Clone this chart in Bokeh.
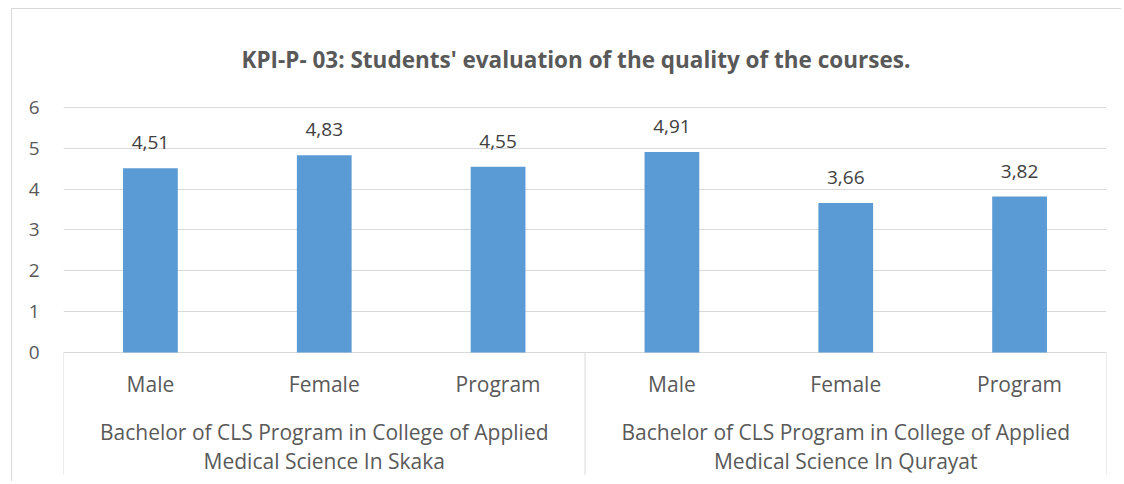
from bokeh.plotting import figure
from bokeh.models import FactorRange, Range1d, FixedTicker, ColumnDataSource, LabelSet
from bokeh.core.properties import value
from bokeh.embed import file_html
from bokeh.resources import INLINE

# ---- data ----
title_text = "KPI-P- 03: Students' evaluation of the quality of the courses."
group_labels = [
    "Bachelor of CLS Program in College of Applied\nMedical Science In Skaka",
    "Bachelor of CLS Program in College of Applied\nMedical Science In Qurayat",
]
subcategories = ["Male", "Female", "Program"]
skaka_values = [4.51, 4.83, 4.55]
qurayat_values = [4.91, 3.66, 3.82]
y_ticks = [0, 1, 2, 3, 4, 5, 6]

# ---- styling ----
FONT = "Open Sans"
TXT = "#595959"
GRID = "#d9d9d9"
BAR = "#5B9BD5"

factors = [(g, s) for g in group_labels for s in subcategories]
values = skaka_values + qurayat_values
labels = [f"{v:.2f}".replace(".", ",") for v in values]
src = ColumnDataSource(data=dict(x=factors, top=values, label=labels))

y_bottom = -3.184
p = figure(
    x_range=FactorRange(*factors, group_padding=0, range_padding=0),
    y_range=Range1d(y_bottom, 6.465),
    width=1110, height=473,
    output_backend="svg", toolbar_location=None,
    x_axis_location=None,
    min_border_left=51, min_border_right=16, min_border_top=79, min_border_bottom=0,
)
p.styles = {"border-top": "1px solid #d9d9d9", "border-left": "1px solid #d9d9d9",
            "margin-left": "11px", "margin-top": "8px"}
p.outline_line_color = None
p.xgrid.grid_line_color = None
p.ygrid.grid_line_color = GRID
p.ygrid.grid_line_width = 1

p.yaxis.ticker = FixedTicker(ticks=y_ticks)
p.yaxis.axis_line_color = None
p.yaxis.major_tick_line_color = None
p.yaxis.minor_tick_line_color = None
p.yaxis.major_label_standoff = 18
p.yaxis.major_label_text_font = FONT
p.yaxis.major_label_text_font_size = "19px"
p.yaxis.major_label_text_color = TXT

p.title.text = title_text
p.title.align = "left"
p.title.offset = 178
p.title.text_font = FONT
p.title.text_font_style = "bold"
p.title.text_font_size = "22.5px"
p.title.text_color = TXT
p.title.standoff = 27

p.vbar(x="x", top="top", width=0.315, source=src, fill_color=BAR, line_color=None)

p.add_layout(LabelSet(x="x", y="top", text="label", source=src,
                      text_align="center", text_baseline="alphabetic", y_offset=19,
                      text_font=value(FONT), text_font_size="19px", text_color="#404040"))

# category axis drawn as text in the lower part of the frame
p.text(x=factors, y=[-0.78] * len(factors), text=[f[1] for f in factors],
       text_align="center", text_baseline="middle",
       text_font=value(FONT), text_font_size="21px", text_color=TXT)
p.text(x=[(g, subcategories[1]) for g in group_labels], y=[-2.30] * len(group_labels),
       text=group_labels, text_align="center", text_baseline="middle",
       text_line_height=1.05,
       text_font=value(FONT), text_font_size="21px", text_color=TXT)

sep_bottom = -2.99
sep_x = [(g, subcategories[0], -0.5) for g in group_labels] + [(group_labels[-1], subcategories[-1], 0.5)]
p.segment(x0=sep_x, y0=[0] * len(sep_x), x1=sep_x, y1=[sep_bottom] * len(sep_x),
          line_color=GRID, line_width=1)

open("out.html", "w").write(file_html(p, INLINE))
